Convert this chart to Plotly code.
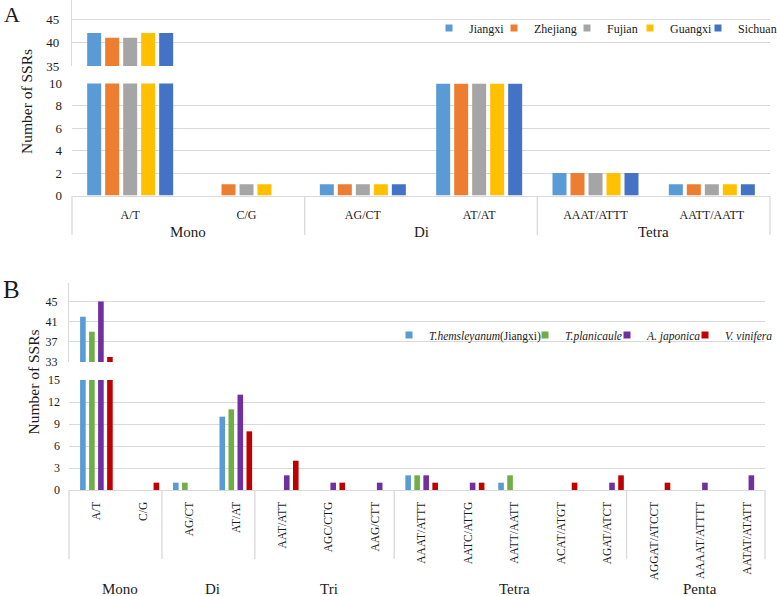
import plotly.graph_objects as go

W, H = 777, 596

# ---------------- Panel A data ----------------
a_categories = ["A/T", "C/G", "AG/CT", "AT/AT", "AAAT/ATTT", "AATT/AATT"]
a_groups = ["Mono", "Mono", "Di", "Di", "Tetra", "Tetra"]
a_names = ["Jiangxi", "Zhejiang", "Fujian", "Guangxi", "Sichuan"]
a_jiangxi = [42, 0, 1, 10, 2, 1]
a_zhejiang = [41, 1, 1, 10, 2, 1]
a_fujian = [41, 1, 1, 10, 2, 1]
a_guangxi = [42, 1, 1, 10, 2, 1]
a_sichuan = [42, 0, 1, 10, 2, 1]
a_top_ticks = [35, 40, 45]
a_bottom_ticks = [0, 2, 4, 6, 8, 10]

# ---------------- Panel B data ----------------
b_categories = ["A/T", "C/G", "AG/CT", "AT/AT", "AAT/ATT", "AGC/CTG", "AAG/CTT",
                "AAAT/ATTT", "AATC/ATTG", "AATT/AATT", "ACAT/ATGT", "AGAT/ATCT",
                "AGGAT/ATCCT", "AAAAT/ATTTT", "AATAT/ATATT"]
b_groups = ["Mono", "Mono", "Di", "Di", "Tri", "Tri", "Tri",
            "Tetra", "Tetra", "Tetra", "Tetra", "Tetra", "Penta", "Penta", "Penta"]
b_names = ["<i>T.hemsleyanum</i>(Jiangxi)", "<i>T.planicaule</i>",
           "<i>A. japonica</i>", "<i>V. vinifera</i>"]
b_hemsleyanum = [42, 0, 1, 10, 0, 0, 0, 2, 0, 1, 0, 0, 0, 0, 0]
b_planicaule = [39, 0, 1, 11, 0, 0, 0, 2, 0, 2, 0, 0, 0, 0, 0]
b_japonica = [45, 0, 0, 13, 2, 1, 1, 2, 1, 0, 0, 1, 0, 1, 2]
b_vinifera = [34, 1, 0, 8, 4, 1, 0, 1, 1, 0, 1, 2, 1, 0, 0]
b_top_ticks = [33, 37, 41, 45]
b_bottom_ticks = [0, 3, 6, 9, 12, 15]

a_colors = ["#5B9BD5", "#ED7D31", "#A5A5A5", "#FFC000", "#4472C4"]
b_colors = ["#5B9BD5", "#70AD47", "#7030A0", "#C00000"]

# legend symbol centres (pixels) for each entry
a_legend_px = [449, 514, 587, 650, 718]
b_legend_px = [409, 545, 627, 705]

FONT = "Liberation Serif, Times New Roman, serif"
TXT = "#1a1a1a"
GRID = "#D9D9D9"


def fx(p):
    return p / W


def fy(p):
    return 1 - p / H


fig = go.Figure()
legend_layouts = {}


def legend_key(k):
    return "legend" if k == 1 else "legend%d" % k


def add_legend_entry(k, name, col, xa, ya, center_px, y_px, size):
    key = legend_key(k)
    fig.add_trace(go.Scatter(
        x=[None], y=[None], mode="markers", name=name,
        marker=dict(symbol="square", size=7, color=col, line=dict(width=0)),
        xaxis=xa, yaxis=ya, showlegend=True, legend=key, hoverinfo="skip"))
    legend_layouts[key] = dict(
        orientation="h", x=fx(center_px - 20), xanchor="left", y=fy(y_px), yanchor="middle",
        bgcolor="rgba(0,0,0,0)", borderwidth=0, itemwidth=30,
        font=dict(family=FONT, size=size, color=TXT),
        itemclick=False, itemdoubleclick=False)


# ---------- Panel A bars ----------
a_series = [a_jiangxi, a_zhejiang, a_fujian, a_guangxi, a_sichuan]
a_cat_px = (770 - 72) / len(a_categories)
a_pitch = 18 / a_cat_px
a_width = 14 / a_cat_px
n = len(a_series)
for i, (name, vals, col) in enumerate(zip(a_names, a_series, a_colors)):
    off = (i - (n - 1) / 2) * a_pitch - a_width / 2
    for xa, ya in (("x", "y"), ("x2", "y2")):
        fig.add_trace(go.Bar(
            x=a_categories, y=vals, name=name, marker=dict(color=col, line=dict(width=0)),
            offset=off, width=a_width, xaxis=xa, yaxis=ya, showlegend=False))
    add_legend_entry(i + 1, name, col, "x", "y", a_legend_px[i], 28, 12)

# ---------- Panel B bars ----------
b_series = [b_hemsleyanum, b_planicaule, b_japonica, b_vinifera]
b_cat_px = 46.4
b_pitch = 9 / b_cat_px
b_width = 5.6 / b_cat_px
n = len(b_series)
for i, (name, vals, col) in enumerate(zip(b_names, b_series, b_colors)):
    off = (i - (n - 1) / 2) * b_pitch - b_width / 2
    for xa, ya in (("x3", "y3"), ("x4", "y4")):
        fig.add_trace(go.Bar(
            x=b_categories, y=vals, name=name, marker=dict(color=col, line=dict(width=0)),
            offset=off, width=b_width, xaxis=xa, yaxis=ya, showlegend=False))
    add_legend_entry(len(a_names) + i + 1, name, col, "x3", "y3", b_legend_px[i], 335, 11.5)

tickfont = dict(family=FONT, size=13, color=TXT)
axis_common = dict(showgrid=True, gridcolor=GRID, gridwidth=1.3, zeroline=False,
                   ticks="", fixedrange=True)

fig.update_layout(
    width=W, height=H,
    margin=dict(l=0, r=0, t=0, b=0, autoexpand=False),
    paper_bgcolor="white", plot_bgcolor="white",
    barmode="overlay",
    font=dict(family=FONT, color=TXT),
    # Panel A
    xaxis=dict(domain=[fx(72), fx(770)], anchor="y", range=[-0.5, 5.5],
               showline=True, linecolor=GRID, linewidth=1.3, showgrid=False,
               ticks="", tickfont=dict(family=FONT, size=12, color=TXT),
               ticklabelstandoff=8, fixedrange=True, automargin=False),
    yaxis=dict(domain=[fy(195.5), fy(83.5)], anchor="x", range=[0, 10],
               tickvals=a_bottom_ticks, ticklabelstandoff=9, showline=False,
               tickfont=tickfont, automargin=False, **axis_common),
    xaxis2=dict(domain=[fx(72), fx(770)], anchor="y2", matches="x", visible=False),
    yaxis2=dict(domain=[fy(66), fy(0)], anchor="x2", range=[35, 35 + 66 / 4.7],
                tickvals=a_top_ticks, ticklabelstandoff=9, showline=True,
                linecolor=GRID, linewidth=1.3, tickfont=tickfont, automargin=False,
                **axis_common),
    # Panel B
    xaxis3=dict(domain=[fx(69), fx(765)], anchor="y3", range=[-0.59, 14.39],
                showline=True, linecolor=GRID, linewidth=1.3, showgrid=False,
                ticks="", tickangle=-90,
                tickfont=dict(family=FONT, size=11.5, color=TXT),
                ticklabelstandoff=6, fixedrange=True, automargin=False),
    yaxis3=dict(domain=[fy(490), fy(380)], anchor="x3", range=[0, 15],
                tickvals=b_bottom_ticks, ticklabelstandoff=8, showline=False,
                tickfont=dict(family=FONT, size=12, color=TXT), automargin=False,
                **axis_common),
    xaxis4=dict(domain=[fx(69), fx(765)], anchor="y4", matches="x3", visible=False),
    yaxis4=dict(domain=[fy(362), fy(283)], anchor="x4", range=[33, 33 + 79 / 5.04],
                tickvals=b_top_ticks, ticklabelstandoff=8, showline=True,
                linecolor=GRID, linewidth=1.3,
                tickfont=dict(family=FONT, size=12, color=TXT), automargin=False,
                **axis_common),
)
fig.update_layout(**legend_layouts)

shapes = []
annotations = []


def group_spans(groups):
    spans = []
    start = 0
    for i in range(1, len(groups) + 1):
        if i == len(groups) or groups[i] != groups[start]:
            spans.append((groups[start], start, i - 1))
            start = i
    return spans


sep_style = dict(color=GRID, width=1.3)

# Panel A separators and group labels
for gname, s, e in group_spans(a_groups):
    annotations.append(dict(text=gname, x=(s + e) / 2, xref="x", y=fy(232), yref="paper",
                            showarrow=False, yanchor="middle",
                            font=dict(family=FONT, size=15, color=TXT)))
    if e < len(a_groups) - 1:
        shapes.append(dict(type="line", xref="x", x0=e + 0.5, x1=e + 0.5,
                           yref="paper", y0=fy(196), y1=fy(235), line=sep_style))
for edge in (0, 1):
    shapes.append(dict(type="line", xref="x domain", x0=edge, x1=edge,
                       yref="paper", y0=fy(196), y1=fy(235), line=sep_style))

# Panel B separators and group labels
b_shift = -0.09
for gname, s, e in group_spans(b_groups):
    annotations.append(dict(text=gname, x=(s + e) / 2, xref="x3", y=fy(589), yref="paper",
                            showarrow=False, yanchor="middle",
                            font=dict(family=FONT, size=15, color=TXT)))
    if e < len(b_groups) - 1:
        shapes.append(dict(type="line", xref="x3", x0=e + 0.5 + b_shift, x1=e + 0.5 + b_shift,
                           yref="paper", y0=fy(490), y1=fy(559), line=sep_style))
for edge in (0, 1):
    shapes.append(dict(type="line", xref="x3 domain", x0=edge, x1=edge,
                       yref="paper", y0=fy(490), y1=fy(559), line=sep_style))

# Panel letters and axis titles
annotations += [
    dict(text="A", x=fx(2), y=fy(14), xref="paper", yref="paper", showarrow=False,
         xanchor="left", yanchor="middle", font=dict(family=FONT, size=22, color=TXT)),
    dict(text="B", x=fx(1), y=fy(289), xref="paper", yref="paper", showarrow=False,
         xanchor="left", yanchor="middle", font=dict(family=FONT, size=25, color=TXT)),
    dict(text="Number of SSRs", x=fx(26), y=fy(102), xref="paper", yref="paper",
         showarrow=False, textangle=-90, xanchor="center", yanchor="middle",
         font=dict(family=FONT, size=15.5, color=TXT)),
    dict(text="Number of SSRs", x=fx(32.5), y=fy(382), xref="paper", yref="paper",
         showarrow=False, textangle=-90, xanchor="center", yanchor="middle",
         font=dict(family=FONT, size=15.5, color=TXT)),
]

fig.update_layout(shapes=shapes, annotations=annotations)

fig.write_html("out.html", config={"displayModeBar": False},
               post_script="document.body.style.margin='0px';")
